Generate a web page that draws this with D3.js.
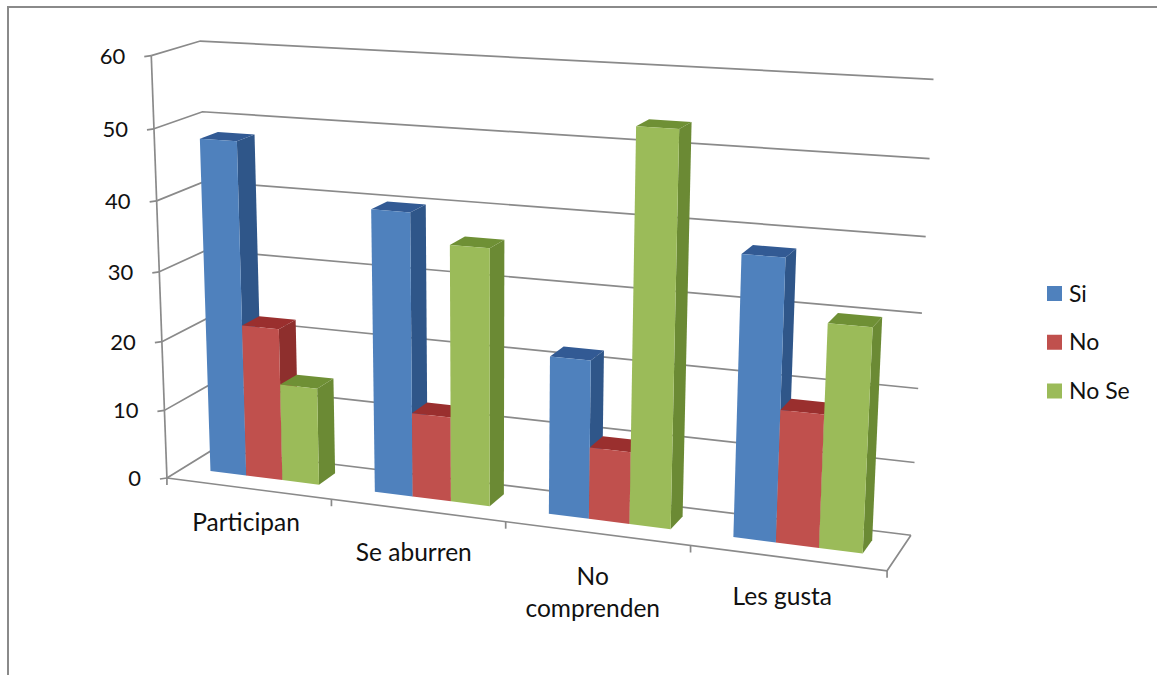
<!DOCTYPE html>
<html>
<head>
<meta charset="utf-8">
<script src="https://cdn.jsdelivr.net/npm/d3@7/dist/d3.min.js"></script>
<style>
  html, body { margin: 0; padding: 0; background: #fff; }
  svg { display: block; font-family: Lato, "Open Sans", sans-serif; }
</style>
</head>
<body>
<svg id="chart" width="1157" height="675"></svg>
<script>
// Chart values
const categories = ["Participan", "Se aburren", "No comprenden", "Les gusta"];
const seriesNames = ["Si", "No", "No Se"];
const si = [48, 40, 22, 38];
const no = [22, 12, 10, 18];
const noSe = [14, 36, 53.5, 30];
const valueTicks = [0, 10, 20, 30, 40, 50, 60];

// Face colours per series: front, side, top
const frontColors = ["#4F81BD", "#C0504D", "#9BBB59"];
const sideColors = ["#2F5689", "#8E2F2D", "#6B8A34"];
const topColors = ["#325A94", "#9A2F2E", "#6F9035"];

// Camera calibration: box coordinates (u along categories, v up, w into depth) and their screen position
const cameraAnchors = [
  [0, 0, 0, 170, 477], [.25, 0, 0, 332, 498.5], [.5, 0, 0, 505, 522], [.75, 0, 0, 690, 546.5], [1, 0, 0, 887, 573],
  [0, 0, 1, 210, 452], [1, 0, 1, 911, 532],
  [0, 1, 0, 148, 56], [0, .5, 0, 160, 270], [0, 1, 1, 203, 41],
  [1, 1, 1, 933, 80], [1, .5, 1, 923, 313]
];

// Least squares fit of a projective camera to the anchors
function fitCamera(anchors) {
  const rows = [], rhs = [];
  const k = 1000;
  anchors.forEach(([X, Y, Z, sx, sy]) => {
    const x = sx / k, y = sy / k;
    rows.push([X, Y, Z, 1, 0, 0, 0, 0, -x * X, -x * Y, -x * Z]); rhs.push(x);
    rows.push([0, 0, 0, 0, X, Y, Z, 1, -y * X, -y * Y, -y * Z]); rhs.push(y);
  });
  const n = 11;
  const A = d3.range(n).map(i => d3.range(n + 1).map(j =>
    d3.sum(rows, (r, m) => r[i] * (j < n ? r[j] : rhs[m]))));
  for (let c = 0; c < n; c++) {
    let piv = c;
    for (let r = c + 1; r < n; r++) if (Math.abs(A[r][c]) > Math.abs(A[piv][c])) piv = r;
    [A[c], A[piv]] = [A[piv], A[c]];
    for (let r = 0; r < n; r++) {
      if (r === c) continue;
      const f = A[r][c] / A[c][c];
      for (let j = c; j <= n; j++) A[r][j] -= f * A[c][j];
    }
  }
  const p = A.map((row, i) => row[n] / row[i]);
  return (X, Y, Z) => {
    const d = p[8] * X + p[9] * Y + p[10] * Z + 1;
    return [k * (p[0] * X + p[1] * Y + p[2] * Z + p[3]) / d,
            k * (p[4] * X + p[5] * Y + p[6] * Z + p[7]) / d];
  };
}
const project = fitCamera(cameraAnchors);

// Scales into box coordinates
const uBand = d3.scaleBand().domain(categories).range([0, 1]).paddingInner(1 / 3).paddingOuter(1 / 6);
const uSeries = d3.scaleBand().domain(seriesNames).range([0, uBand.bandwidth()]);
const vScale = d3.scaleLinear().domain([0, 60]).range([0, 1]);
const depthNear = 0.36, depthFar = 0.74;

const svg = d3.select("#chart");
const lineGen = d3.line();
const gridColor = "#8A8A8A";

// Outer frame, open at the right and the bottom
svg.append("path").attr("d", lineGen([[8, 675], [8, 7], [1157, 7]]))
  .attr("fill", "none").attr("stroke", "#8A8A8A").attr("stroke-width", 2);

// Walls and floor
const walls = svg.append("g").attr("fill", "none").attr("stroke", gridColor).attr("stroke-width", 1.7);
valueTicks.forEach(t => {
  const v = vScale(t);
  walls.append("path").attr("d", lineGen([project(0, v, 0), project(0, v, 1), project(1, v, 1)]));
  const a = project(0, v, 0);
  walls.append("path").attr("d", lineGen([[a[0] - 7, a[1] + 1], a]));
});
walls.append("path").attr("d", lineGen([project(0, 0, 0), project(0, 1, 0)]));
walls.append("path").attr("d", lineGen([project(1, 0, 1), project(1, 0, 0), project(0, 0, 0)]));
d3.range(categories.length + 1).forEach(i => {
  const a = project(i / categories.length, 0, 0);
  walls.append("path").attr("d", lineGen([a, [a[0], a[1] + 7]]));
});

// Value labels follow the slanted axis
svg.append("g").selectAll("text").data(valueTicks).join("text")
  .attr("x", d => project(0, vScale(d), 0)[0] - 26)
  .attr("y", d => project(0, vScale(d), 0)[1] + 8)
  .attr("text-anchor", "end").attr("font-size", 22).attr("fill", "#111")
  .text(d => d);

// Bars, painted left to right so nearer faces overlap
const bars = svg.append("g");
const allSeries = [si, no, noSe];
categories.forEach((cat, c) => {
  seriesNames.forEach((name, s) => {
    const u0 = uBand(cat) + uSeries(name), u1 = u0 + uSeries.bandwidth();
    const h = vScale(allSeries[s][c]);
    const g = bars.append("g");
    const face = (pts, fill) => g.append("path")
      .attr("d", lineGen(pts.map(q => project(...q))) + "Z").attr("fill", fill);
    face([[u1, 0, depthNear], [u1, 0, depthFar], [u1, h, depthFar], [u1, h, depthNear]], sideColors[s]);
    face([[u0, h, depthNear], [u1, h, depthNear], [u1, h, depthFar], [u0, h, depthFar]], topColors[s]);
    face([[u0, 0, depthNear], [u1, 0, depthNear], [u1, h, depthNear], [u0, h, depthNear]], frontColors[s]);
  });
});

// Category labels, the long one wrapped over two lines
const labelDrop = [35, 43, 44, 39];
const labelShift = [-2, -3.5, -4, -5];
const catLabels = svg.append("g").attr("font-size", 24.5).attr("fill", "#111").attr("text-anchor", "middle");
categories.forEach((cat, i) => {
  const a = project(uBand(cat) + uBand.bandwidth() / 2, 0, 0);
  const lines = cat === "No comprenden" ? cat.split(" ") : [cat];
  lines.forEach((ln, k) => catLabels.append("text")
    .attr("x", a[0] + labelShift[i]).attr("y", a[1] + labelDrop[i] + 8 + k * 32).text(ln));
});

// Legend
const legendY = d3.scalePoint().domain(seriesNames).range([293.5, 391]);
const legend = svg.append("g").selectAll("g").data(seriesNames).join("g")
  .attr("transform", d => `translate(1047,${legendY(d)})`);
legend.append("rect").attr("y", -7.5).attr("width", 15).attr("height", 15).attr("fill", (d, i) => frontColors[i]);
legend.append("text").attr("x", 22).attr("y", 8).attr("font-size", 23).attr("fill", "#111").text(d => d);
</script>
</body>
</html>
